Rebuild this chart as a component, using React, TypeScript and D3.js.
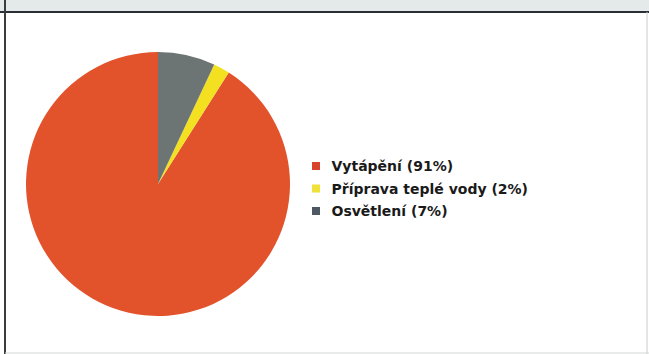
import React from "react";
import * as d3 from "d3";

const categories = ["Vytápění", "Příprava teplé vody", "Osvětlení"];
const values = [91, 2, 7];
const colors = ["#e2532c", "#f3e020", "#6c7573"];
const legendColors = ["#d8432c", "#f0e03a", "#4d5862"];

const W = 649;
const H = 354;

export default function App() {
  const cx = 158;
  const cy = 184;
  const r = 132;
  const data = categories.map((c, i) => ({ c, v: values[i], i }));
  // drawn counter-clockwise from 12 o'clock
  const pie = d3
    .pie<any>()
    .value((d: any) => d.v)
    .sort(null)
    .startAngle(0)
    .endAngle(-2 * Math.PI);
  const arcs = pie(data);
  const arc = d3.arc<any>().innerRadius(0).outerRadius(r);

  return (
    <div style={{ position: "absolute", left: 0, top: 0, margin: 0 }}>
      <svg width={W} height={H} style={{ display: "block" }}>
        <rect x={0} y={0} width={W} height={H} fill="#ffffff" />
        <rect x={0} y={0} width={W} height={12} fill="#e4e9e9" />
        <line x1={0} x2={W} y1={12} y2={12} stroke="#2a2f33" strokeWidth={2} />
        <line x1={5} x2={5} y1={0} y2={H} stroke="#3a3d40" strokeWidth={2} />
        <line x1={647} x2={647} y1={12} y2={H} stroke="#c8cccc" strokeWidth={1} />
        <line x1={5} x2={W} y1={353} y2={353} stroke="#d4d8d8" strokeWidth={1} />
        <g transform={`translate(${cx},${cy})`}>
          {arcs.map((a: any, i: number) => (
            <path key={i} d={arc(a) || ""} fill={colors[a.data.i]} />
          ))}
        </g>
        <g transform="translate(312,166)">
          {categories.map((c, i) => (
            <g key={c} transform={`translate(0,${i * 22.5})`}>
              <rect x={0} y={-4} width={8} height={8} fill={legendColors[i]} />
              <text
                x={19.5}
                y={5}
                fontFamily="DejaVu Sans"
                fontWeight="bold"
                fontSize={14}
                fill="#1a1a1a"
              >
                {`${c} (${values[i]}%)`}
              </text>
            </g>
          ))}
        </g>
      </svg>
    </div>
  );
}
